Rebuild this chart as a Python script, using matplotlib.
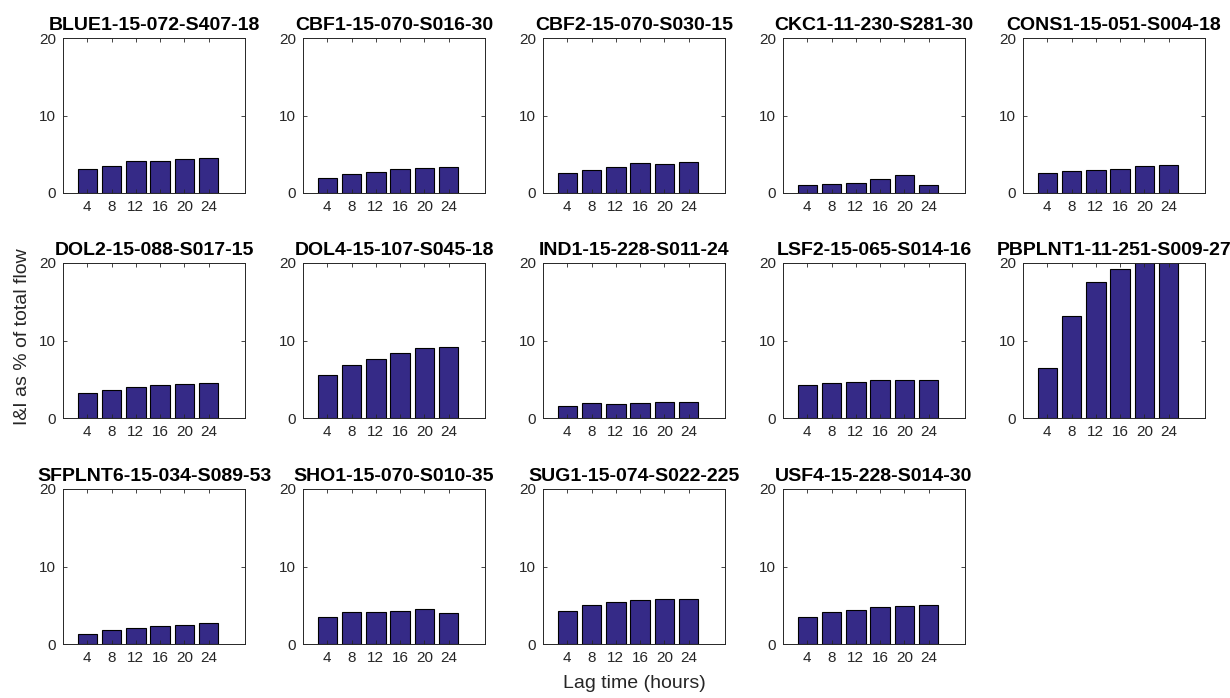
#!/usr/bin/env python3

import matplotlib
matplotlib.use('Agg')
import matplotlib.pyplot as plt

plt.rcParams['font.family'] = ['Liberation Sans', 'DejaVu Sans']

lags = [4, 8, 12, 16, 20, 24]

sites = [
    'BLUE1-15-072-S407-18', 'CBF1-15-070-S016-30', 'CBF2-15-070-S030-15',
    'CKC1-11-230-S281-30', 'CONS1-15-051-S004-18',
    'DOL2-15-088-S017-15', 'DOL4-15-107-S045-18', 'IND1-15-228-S011-24',
    'LSF2-15-065-S014-16', 'PBPLNT1-11-251-S009-27',
    'SFPLNT6-15-034-S089-53', 'SHO1-15-070-S010-35', 'SUG1-15-074-S022-225',
    'USF4-15-228-S014-30',
]

# I&I as % of total flow for each lag time
blue1 = [3.05, 3.45, 4.08, 4.08, 4.45, 4.58]
cbf1 = [1.9, 2.45, 2.75, 3.05, 3.2, 3.3]
cbf2 = [2.62, 2.97, 3.35, 3.84, 3.7, 3.96]
ckc1 = [1.04, 1.2, 1.33, 1.86, 2.32, 1.04]
cons1 = [2.55, 2.85, 2.98, 3.1, 3.54, 3.67]
dol2 = [3.18, 3.6, 4.03, 4.3, 4.4, 4.56]
dol4 = [5.55, 6.84, 7.6, 8.38, 8.98, 9.16]
ind1 = [1.59, 1.89, 1.81, 1.98, 2.1, 2.06]
lsf2 = [4.22, 4.47, 4.6, 4.86, 4.86, 4.86]
pbplnt1 = [6.45, 13.2, 17.6, 19.2, 22.0, 23.5]
sfplnt6 = [1.3, 1.86, 2.03, 2.29, 2.42, 2.72]
sho1 = [3.5, 4.19, 4.19, 4.28, 4.49, 4.02]
sug1 = [4.23, 5.05, 5.4, 5.62, 5.79, 5.79]
usf4 = [3.5, 4.1, 4.45, 4.71, 4.88, 4.97]

values = [blue1, cbf1, cbf2, ckc1, cons1, dol2, dol4, ind1, lsf2, pbplnt1,
          sfplnt6, sho1, sug1, usf4]

W, H = 1230, 698
fig = plt.figure(figsize=(W / 100, H / 100), dpi=100)

ax_w, ax_h = 182, 155
lefts = [63 + 240 * c for c in range(5)]
tops = [38, 263, 489]

axis_color = '#262626'
bar_color = '#352a87'

for i, (name, vals) in enumerate(zip(sites, values)):
    r, c = divmod(i, 5)
    ax = fig.add_axes([lefts[c] / W, 1 - (tops[r] + ax_h) / H, ax_w / W, ax_h / H])
    ax.bar(lags, vals, width=3.2, color=bar_color, edgecolor='black', linewidth=0.8)
    ax.set_xlim(0, 30)
    ax.set_ylim(0, 20)
    ax.set_xticks(lags)
    ax.set_yticks([0, 10, 20])
    ax.tick_params(direction='in', length=3, width=0.6, colors=axis_color,
                   labelsize=11, top=True, right=True, pad=5)
    for s in ax.spines.values():
        s.set_color(axis_color)
        s.set_linewidth(0.7)
    ax.set_title(name, fontsize=14, fontweight='bold', pad=6)

fig.text(23 / W, 1 - 337 / H, 'I&I as % of total flow', rotation=90,
         ha='center', va='center', fontsize=14, color=axis_color)
fig.text(634 / W, 1 - 683 / H, 'Lag time (hours)', ha='center', va='center',
         fontsize=14, color=axis_color)

plt.savefig('out.png', dpi=100)
